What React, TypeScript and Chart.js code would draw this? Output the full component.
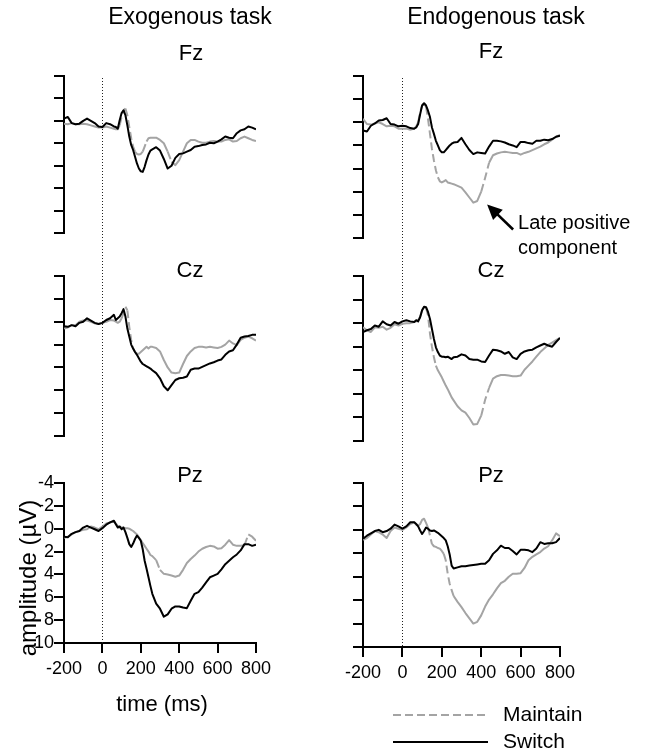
import React, { useEffect, useRef } from 'react';
import { Chart, registerables } from 'chart.js';

Chart.register(...registerables);

// ---------------- data ----------------
// time axis (ms): 20 ms steps, 10 ms steps around the early components
const TIMES = [
  -200, -180, -160, -140, -120, -100, -80, -60, -40, -20, 0, 20, 40, 60,
  70, 80, 90, 100, 110, 120, 130, 140, 150, 160, 170, 180, 190, 200, 210, 220, 230, 240, 250,
  260, 280, 300, 320, 340, 360, 380, 400, 420, 440, 460, 480, 500, 520, 540, 560, 580, 600,
  620, 640, 660, 680, 700, 720, 740, 760, 780, 800,
];

const SERIES = ['Maintain', 'Switch'];
const COLUMN_TITLES = ['Exogenous task', 'Endogenous task'];
const ELECTRODES = ['Fz', 'Cz', 'Pz'];
const X_TICKS = { min: -200, max: 800, step: 200 };
const Y_TICKS = { min: -4, max: 10, step: 2 };

// amplitudes in µV (positive plotted downward)
const EXO_FZ_MAINTAIN = [
  0.25, 0.3, 0.2, 0.3, 0.3, 0.25, 0.3, 0.4, 0.5, 0.6, 0.6, 0.5, 0.6, 0.7,
  0.75, 0.75, 0.4, -0.35, -0.95, -1.1, -0.5, 0.55, 1.55, 2.3, 2.75, 2.95, 3.0, 2.95, 2.75, 2.3, 1.85, 1.55, 1.5,
  1.5, 1.5, 1.7, 2.0, 2.75, 3.65, 3.95, 3.5, 2.75, 2.0, 1.7, 1.7, 1.85, 1.95, 1.95, 1.85, 1.8, 1.85,
  1.85, 1.7, 1.65, 1.85, 1.8, 1.55, 1.4, 1.55, 1.7, 1.8,
];
const EXO_FZ_SWITCH = [
  -0.2, -0.35, 0.2, 0.3, 0.25, 0, -0.2, 0, 0.2, 0.5, 0.55, 0.2, 0.3, 0.5,
  0.55, 0.7, -0.05, -0.7, -0.95, -0.5, 0.4, 1.4, 2.15, 2.6, 3.2, 3.8, 4.25, 4.5, 4.55, 4.1, 3.5, 3.0, 2.65,
  2.55, 2.35, 2.65, 3.4, 4.25, 4.0, 3.3, 2.95, 2.9, 2.75, 2.6, 2.3, 2.25, 2.15, 2.1, 1.95, 2.0, 1.85,
  1.65, 1.4, 1.5, 1.55, 1.1, 0.85, 0.75, 0.5, 0.6, 0.75,
];
const EXO_CZ_MAINTAIN = [
  0.6, 0.5, 0.3, 0.3, 0, -0.1, -0.1, 0, 0.15, 0.2, 0.1, 0, -0.15, -0.1,
  0, 0.1, 0, -0.3, -0.75, -1.3, -1.0, 0.45, 1.6, 2.35, 2.65, 2.8, 2.8, 2.65, 2.5, 2.35, 2.2, 2.35, 2.2,
  2.2, 2.3, 2.6, 3.35, 4.0, 4.45, 4.5, 4.45, 3.7, 3.0, 2.6, 2.3, 2.2, 2.2, 2.25, 2.2, 2.25, 2.3,
  2.2, 2.0, 1.65, 1.9, 2.05, 1.6, 1.4, 1.3, 1.45, 1.65,
];
const EXO_CZ_SWITCH = [
  0.4, 0.45, 0.3, 0.4, 0.1, 0, -0.3, -0.1, 0.1, 0.2, 0.1, -0.15, -0.3, -0.6,
  -0.15, -0.3, -0.45, -0.75, -1.1, -0.45, 0.6, 1.3, 2.0, 2.35, 2.65, 2.9, 3.2, 3.5, 3.7, 3.8, 3.9, 4.0, 4.1,
  4.25, 4.5, 4.95, 5.65, 6.0, 5.55, 5.1, 4.95, 4.9, 4.8, 4.2, 4.1, 4.1, 3.95, 3.8, 3.65, 3.55, 3.4,
  3.3, 2.9, 2.6, 2.5, 2.0, 1.4, 1.3, 1.25, 1.15, 1.15,
];
const EXO_PZ_MAINTAIN = [
  0.8, 0.7, 0.5, 0.3, 0.2, 0.1, 0.05, -0.2, -0.1, 0.05, -0.2, -0.45, -0.55, -0.65,
  -0.45, -0.25, -0.1, -0.1, -0.1, -0.05, -0.05, 0, 0.1, 0.2, 0.35, 0.5, 0.75, 1.0, 1.25, 1.5, 1.75, 2.0, 2.3,
  2.4, 2.75, 3.6, 3.95, 4.0, 4.1, 4.2, 4.1, 3.6, 3.0, 2.65, 2.35, 2.0, 1.75, 1.6, 1.5, 1.55, 1.75,
  1.7, 1.4, 1.0, 1.4, 1.5, 1.5, 1.45, 0.5, 0.7, 1.05,
];
const EXO_PZ_SWITCH = [
  0.7, 0.75, 0.45, 0.3, 0.2, -0.1, -0.25, -0.1, 0.05, 0.2, -0.05, -0.35, -0.55, -0.7,
  -0.4, -0.1, -0.2, 0.05, -0.1, 0.3, 0.8, 1.35, 1.6, 1.3, 0.9, 0.6, 0.8, 1.05, 1.8, 2.8, 3.5, 4.25, 5.0,
  5.7, 6.55, 7.0, 7.7, 7.5, 7.0, 6.8, 6.8, 6.9, 6.95, 6.3, 5.7, 5.55, 5.15, 4.7, 4.25, 4.1, 3.95,
  3.55, 3.1, 2.8, 2.5, 2.25, 1.9, 1.35, 1.35, 1.5, 1.4,
];
const ENDO_FZ_MAINTAIN = [
  -0.3, 0.15, 0.2, 0.1, 0, 0.15, 0.35, 0.3, 0.35, 0.55, 0.55, 0.55, 0.65, 0.55,
  0.35, 0, -0.85, -1.45, -1.6, -1.35, -0.3, 1.0, 2.3, 3.3, 4.15, 4.75, 5.1, 5.2, 5.1, 5.0, 5.2, 5.25, 5.3,
  5.35, 5.5, 5.65, 6.05, 6.5, 6.95, 6.8, 6.0, 4.8, 3.5, 2.85, 2.7, 2.6, 2.55, 2.6, 2.65, 2.65, 2.8,
  2.65, 2.55, 2.4, 2.25, 2.1, 1.9, 1.75, 1.5, 1.25, 1.1,
];
const ENDO_FZ_SWITCH = [
  0.7, 0.8, 0.3, 0.1, -0.15, -0.2, -0.35, 0.15, 0.2, 0.35, 0.3, 0.35, 0.5, 0.55,
  0.45, 0.15, -0.7, -1.45, -1.65, -1.45, -1.0, -0.45, 0.45, 1.0, 1.6, 2.0, 2.4, 2.6, 2.6, 2.4, 2.2, 2.0, 1.85,
  1.75, 1.7, 1.35, 1.9, 2.4, 2.75, 2.6, 2.65, 2.7, 2.1, 1.6, 1.6, 1.65, 1.75, 1.9, 2.0, 2.15, 1.7,
  1.7, 1.8, 1.85, 1.6, 1.6, 1.5, 1.55, 1.45, 1.25, 1.15,
];
const ENDO_CZ_MAINTAIN = [
  0.35, 0.6, 0.75, 0.35, 0.4, 0.3, 0.55, 0.4, 0.1, 0.2, 0.05, 0, 0, -0.1,
  -0.15, -0.25, -0.55, -1.1, -1.35, -1.3, -0.65, 0.9, 2.0, 2.9, 3.6, 4.0, 4.3, 4.6, 4.95, 5.3, 5.6, 5.95, 6.3,
  6.55, 7.05, 7.4, 7.6, 8.05, 8.6, 8.55, 7.85, 6.5, 5.5, 4.7, 4.5, 4.4, 4.4, 4.45, 4.5, 4.5, 4.45,
  3.95, 3.6, 3.25, 2.85, 2.45, 2.15, 1.85, 1.65, 1.45, 1.25,
];
const ENDO_CZ_SWITCH = [
  0.75, 0.6, 0.5, 0.2, 0.3, -0.15, 0.1, 0.2, -0.1, 0.05, -0.15, -0.25, -0.15, -0.1,
  -0.25, -0.15, -0.5, -1.1, -1.4, -1.35, -0.95, -0.35, 0.5, 1.35, 2.05, 2.45, 2.75, 2.85, 2.85, 2.9, 2.85, 2.95, 3.05,
  2.9, 2.85, 2.65, 2.75, 3.05, 3.1, 3.1, 3.25, 3.3, 2.75, 2.25, 2.3, 2.4, 2.6, 2.45, 2.9, 3.05, 2.6,
  2.4, 2.3, 2.25, 2.05, 1.9, 1.75, 1.9, 2.0, 1.6, 1.25,
];
const ENDO_PZ_MAINTAIN = [
  0.85, 0.7, 0.4, 0.1, 0.2, 0.4, 0.7, 0.1, -0.2, -0.1, 0, -0.2, -0.5, -0.65,
  -0.45, -0.35, -0.5, -0.85, -0.95, -0.6, -0.2, 0.5, 1.2, 1.4, 1.45, 1.55, 1.6, 1.8, 2.05, 2.6, 3.75, 4.6, 5.15,
  5.65, 6.15, 6.6, 7.1, 7.55, 8.0, 7.85, 7.3, 6.55, 5.95, 5.5, 5.0, 4.55, 4.35, 4.0, 3.75, 3.75, 3.7,
  3.25, 2.6, 2.3, 2.1, 1.9, 1.6, 1.4, 0.9, 0.3, 0.55,
];
const ENDO_PZ_SWITCH = [
  0.75, 0.5, 0.3, 0.1, 0, 0.2, 0.1, -0.1, -0.45, -0.3, -0.1, -0.3, -0.65, -0.65,
  -0.5, -0.3, 0.05, 0.35, 0.1, -0.2, -0.1, 0.05, 0.1, 0.05, 0.15, 0.25, 0.4, 0.55, 0.7, 0.9, 1.4, 2.1, 3.05,
  3.3, 3.2, 3.1, 3.1, 3.05, 3.0, 2.95, 2.9, 2.9, 2.6, 2.05, 1.75, 1.35, 1.55, 1.55, 1.8, 2.1, 1.7,
  1.7, 1.75, 1.9, 1.6, 1.05, 1.2, 1.15, 1.15, 1.05, 0.7,
];

// annotation target (time ms, amplitude µV)
const ANNOT_POINT = { t: 430, v: 7.1 };
const ANNOT_LINES = ['Late positive', 'component'];

// ---------------- styles / layout ----------------
const W = 647;
const H = 753;
const FONT = '"Liberation Sans", Arial, Helvetica, sans-serif';
const GRAY = '#a4a4a4';
const BLACK = '#000000';
const MAINTAIN_DASH = [8, 4];
const Y_W = 60;
const X_H = 40;

function makeDatasets(maintain: number[], sw: number[]) {
  return [
    {
      label: SERIES[0],
      data: TIMES.map((t, i) => ({ x: t, y: maintain[i] })),
      borderColor: GRAY,
      borderWidth: 2,
      pointRadius: 0,
      borderJoinStyle: 'round',
      order: 2,
      legendDash: MAINTAIN_DASH,
      segment: {
        borderDash: (c: any) =>
          Math.abs(c.p1.y - c.p0.y) > 2.5 * Math.abs(c.p1.x - c.p0.x) ? MAINTAIN_DASH : undefined,
      },
    },
    {
      label: SERIES[1],
      data: TIMES.map((t, i) => ({ x: t, y: sw[i] })),
      borderColor: BLACK,
      borderWidth: 2,
      pointRadius: 0,
      borderJoinStyle: 'round',
      order: 1,
      legendDash: [],
    },
  ];
}

function drawText(ctx: CanvasRenderingContext2D, t: any) {
  ctx.save();
  ctx.font = `${t.size}px ${FONT}`;
  ctx.fillStyle = '#000';
  ctx.textAlign = t.align || 'center';
  ctx.textBaseline = 'middle';
  ctx.translate(t.x, t.y);
  if (t.rotate) ctx.rotate(t.rotate);
  ctx.fillText(t.text, 0, 0);
  ctx.restore();
}

const decorPlugin = {
  id: 'decor',
  beforeDatasetsDraw(chart: any, _args: any, opts: any) {
    const { ctx, scales } = chart;
    const x0 = Math.round(scales.x.getPixelForValue(0)) + 0.5;
    ctx.save();
    ctx.strokeStyle = '#222';
    ctx.lineWidth = 1;
    ctx.setLineDash([1, 2]);
    ctx.beginPath();
    ctx.moveTo(x0, opts.zeroFrom);
    ctx.lineTo(x0, opts.zeroTo);
    ctx.stroke();
    ctx.restore();
  },
  afterDraw(chart: any, _args: any, opts: any) {
    const { ctx, scales } = chart;
    (opts.texts || []).forEach((t: any) => drawText(ctx, t));

    if (opts.annotation) {
      const tx = scales.x.getPixelForValue(ANNOT_POINT.t);
      const ty = scales.y.getPixelForValue(ANNOT_POINT.v);
      const sx = tx + 26;
      const sy = ty + 25;
      const len = Math.hypot(sx - tx, sy - ty);
      const ux = (sx - tx) / len;
      const uy = (sy - ty) / len;
      const headL = 15;
      const headW = 7;
      const bx = tx + ux * headL;
      const by = ty + uy * headL;
      ctx.save();
      ctx.strokeStyle = '#000';
      ctx.fillStyle = '#000';
      ctx.lineWidth = 2.6;
      ctx.beginPath();
      ctx.moveTo(sx, sy);
      ctx.lineTo(bx - ux * 1, by - uy * 1);
      ctx.stroke();
      ctx.beginPath();
      ctx.moveTo(tx, ty);
      ctx.lineTo(bx - uy * headW, by + ux * headW);
      ctx.lineTo(bx + uy * headW, by - ux * headW);
      ctx.closePath();
      ctx.fill();
      ctx.restore();
      ANNOT_LINES.forEach((line, i) =>
        drawText(ctx, { text: line, x: tx + 31, y: ty + 19 + i * 25, size: 20, align: 'left' })
      );
    }

    if (opts.legend) {
      const L = opts.legend;
      chart.data.datasets.forEach((ds: any, i: number) => {
        const y = L.y + i * L.row;
        ctx.save();
        ctx.strokeStyle = ds.borderColor;
        ctx.lineWidth = 2;
        ctx.setLineDash(ds.legendDash || []);
        ctx.beginPath();
        ctx.moveTo(L.x, y);
        ctx.lineTo(L.x + L.len, y);
        ctx.stroke();
        ctx.restore();
        drawText(ctx, { text: ds.label, x: L.x + L.len + L.gap, y, size: 21, align: 'left' });
      });
    }
  },
};

const LEFT = { left: 64, right: 256 };
const RIGHT = { left: 363, right: 560 };

const PANELS = [
  {
    maintain: EXO_FZ_MAINTAIN, sw: EXO_FZ_SWITCH, showX: false, showYLabels: false,
    area: { ...LEFT, top: 76, bottom: 233 },
    decor: {
      zeroFrom: 78, zeroTo: 276,
      texts: [
        { text: COLUMN_TITLES[0], x: 190, y: 18, size: 23 },
        { text: ELECTRODES[0], x: 191, y: 54, size: 22 },
      ],
    },
  },
  {
    maintain: EXO_CZ_MAINTAIN, sw: EXO_CZ_SWITCH, showX: false, showYLabels: false,
    area: { ...LEFT, top: 276, bottom: 436 },
    decor: { zeroFrom: 276, zeroTo: 483, texts: [{ text: ELECTRODES[1], x: 190, y: 271, size: 22 }] },
  },
  {
    maintain: EXO_PZ_MAINTAIN, sw: EXO_PZ_SWITCH, showX: true, showYLabels: true,
    area: { ...LEFT, top: 483, bottom: 643 },
    decor: {
      zeroFrom: 483, zeroTo: 643,
      texts: [
        { text: ELECTRODES[2], x: 190, y: 476, size: 22 },
        { text: 'amplitude (µV)', x: 29, y: 578, size: 24, rotate: -Math.PI / 2 },
        { text: 'time (ms)', x: 162, y: 705, size: 22 },
      ],
    },
  },
  {
    maintain: ENDO_FZ_MAINTAIN, sw: ENDO_FZ_SWITCH, showX: false, showYLabels: false,
    area: { ...RIGHT, top: 76, bottom: 238 },
    decor: {
      zeroFrom: 78, zeroTo: 276, annotation: true,
      texts: [
        { text: COLUMN_TITLES[1], x: 496, y: 18, size: 23 },
        { text: ELECTRODES[0], x: 491, y: 52, size: 22 },
      ],
    },
  },
  {
    maintain: ENDO_CZ_MAINTAIN, sw: ENDO_CZ_SWITCH, showX: false, showYLabels: false,
    area: { ...RIGHT, top: 276, bottom: 441 },
    decor: { zeroFrom: 276, zeroTo: 483, texts: [{ text: ELECTRODES[1], x: 491, y: 271, size: 22 }] },
  },
  {
    maintain: ENDO_PZ_MAINTAIN, sw: ENDO_PZ_SWITCH, showX: true, showYLabels: false,
    area: { ...RIGHT, top: 483, bottom: 647 },
    decor: {
      zeroFrom: 483, zeroTo: 647,
      texts: [{ text: ELECTRODES[2], x: 491, y: 476, size: 22 }],
      legend: { x: 393, y: 715, len: 95, gap: 15, row: 27 },
    },
  },
];

function Panel({ cfg }: { cfg: any }) {
  const ref = useRef<HTMLCanvasElement | null>(null);
  useEffect(() => {
    const canvas = ref.current;
    if (!canvas) return;
    const a = cfg.area;
    const xH = cfg.showX ? X_H : 0;
    const axisGrid = { drawOnChartArea: false, drawTicks: true, tickLength: 10, color: '#000', lineWidth: 2 };
    const axisBorder = { display: true, color: '#000', width: 2 };
    const chart = new Chart(canvas, {
      type: 'line',
      data: { datasets: makeDatasets(cfg.maintain, cfg.sw) as any },
      options: {
        responsive: false,
        animation: false,
        events: [],
        layout: {
          padding: { left: a.left - Y_W, right: W - a.right, top: a.top, bottom: H - a.bottom - xH },
        },
        plugins: {
          legend: { display: false },
          tooltip: { enabled: false },
          decor: cfg.decor,
        } as any,
        scales: {
          x: {
            type: 'linear',
            min: X_TICKS.min,
            max: X_TICKS.max,
            display: cfg.showX,
            afterFit: (s: any) => { if (cfg.showX) s.height = X_H; },
            ticks: {
              stepSize: X_TICKS.step, autoSkip: false, maxRotation: 0, minRotation: 0,
              color: '#000', font: { family: FONT, size: 18 }, padding: 5,
            },
            grid: axisGrid,
            border: axisBorder,
          },
          y: {
            type: 'linear',
            min: Y_TICKS.min,
            max: Y_TICKS.max,
            reverse: true,
            afterFit: (s: any) => { s.width = Y_W; },
            ticks: {
              stepSize: Y_TICKS.step, display: cfg.showYLabels, autoSkip: false,
              color: '#000', font: { family: FONT, size: 18 }, padding: 0,
            },
            grid: axisGrid,
            border: axisBorder,
          },
        },
      } as any,
      plugins: [decorPlugin as any],
    });
    return () => chart.destroy();
  }, []);
  return (
    <canvas
      ref={ref}
      width={W}
      height={H}
      style={{ position: 'absolute', left: 0, top: 0, width: W, height: H }}
    />
  );
}

export default function App() {
  return (
    <div style={{ position: 'absolute', left: 0, top: 0, width: W, height: H, background: '#fff', overflow: 'hidden' }}>
      {PANELS.map((p, i) => (
        <Panel key={i} cfg={p} />
      ))}
    </div>
  );
}
